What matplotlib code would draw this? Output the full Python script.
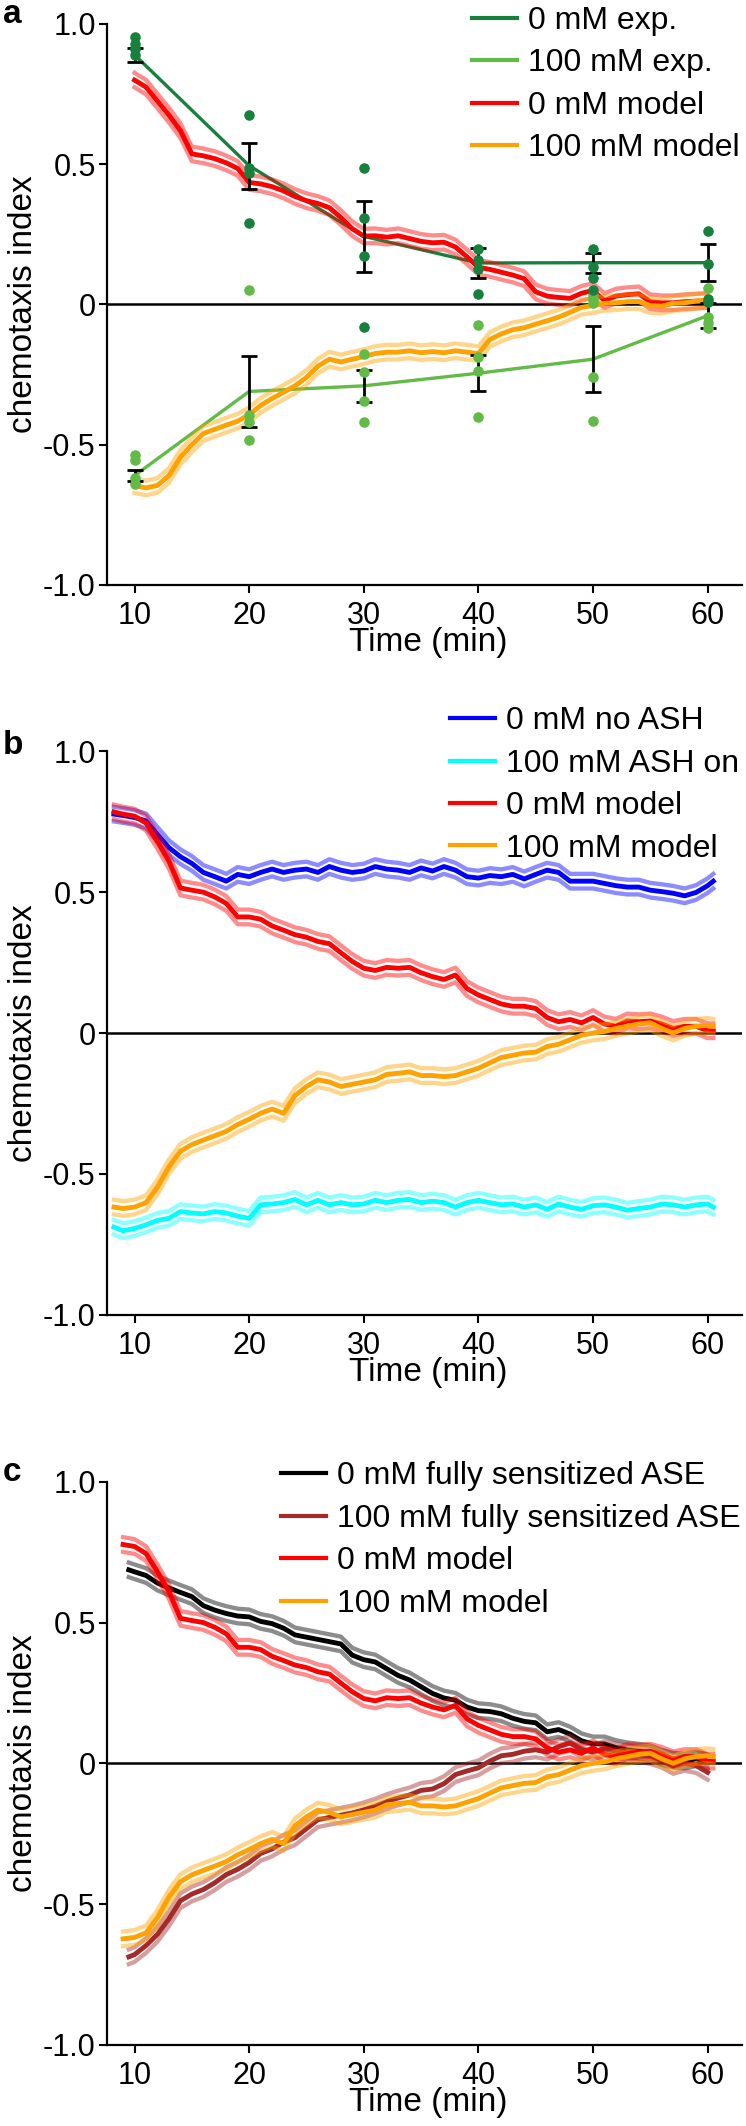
"""
Chemotaxis index over time: experiment vs model (panels a-c)
"""
import numpy as np
import matplotlib
matplotlib.use("Agg")
import matplotlib.pyplot as plt
from matplotlib.lines import Line2D

plt.rcParams['font.family'] = ['Liberation Sans', 'DejaVu Sans']

# DATA

# panel a: experiment (means, errors and single plates)
exp_t = [10, 20, 30, 40, 50, 60]
exp0_mean = [0.89, 0.495, 0.243, 0.148, 0.149, 0.149]
exp0_err = [0.025, 0.082, 0.127, 0.052, 0.035, 0.065]
exp100_mean = [-0.61, -0.31, -0.29, -0.245, -0.195, -0.04]
exp100_err = [0.02, 0.126, 0.057, 0.065, 0.118, 0.045]

exp0_dots = [
    [0.955, 0.93, 0.91, 0.89],
    [0.675, 0.485, 0.47, 0.29],
    [0.485, 0.31, 0.173, -0.08],
    [0.197, 0.157, 0.125, 0.037],
    [0.197, 0.134, 0.093, 0.05],
    [0.262, 0.146, 0.018, 0.01],
]
exp100_dots = [
    [-0.535, -0.554, -0.62, -0.641],
    [0.052, -0.395, -0.42, -0.482],
    [-0.177, -0.24, -0.344, -0.418],
    [-0.072, -0.187, -0.238, -0.40],
    [0.033, 0.02, 0.007, -0.26, -0.415],
    [0.057, -0.043, -0.067, -0.085],
]

# panel a: model
t_a = list(range(10, 61))
red_a = [0.80, 0.775, 0.725, 0.675, 0.62, 0.537, 0.53, 0.52, 0.505, 0.485,
         0.435, 0.43, 0.42, 0.405, 0.385, 0.37, 0.36, 0.345, 0.31, 0.27,
         0.244, 0.245, 0.24, 0.245, 0.235, 0.225, 0.22, 0.222, 0.205, 0.17,
         0.133, 0.125, 0.115, 0.105, 0.092, 0.045, 0.03, 0.025, 0.022, 0.04,
         0.05, 0.014, 0.03, 0.035, 0.038, 0.01, 0.006, 0.006, 0.01, 0.012,
         0.014]
orange_a = [-0.646, -0.654, -0.645, -0.61, -0.545, -0.50, -0.46, -0.445, -0.43, -0.416,
            -0.393, -0.36, -0.335, -0.313, -0.29, -0.26, -0.22, -0.195, -0.205, -0.195,
            -0.186, -0.175, -0.17, -0.17, -0.165, -0.172, -0.168, -0.172, -0.165, -0.17,
            -0.175, -0.125, -0.105, -0.09, -0.083, -0.07, -0.058, -0.045, -0.028, -0.01,
            -0.004, 0.004, 0.006, 0.01, 0.01, -0.004, -0.006, 0.004, 0.006, 0.012,
            0.016]

# panels b and c: model, and panel b controls
t_b = [8.2, 9] + list(range(10, 61)) + [60.5]
red_bc = [0.785, 0.777,
          0.77, 0.745, 0.68, 0.61, 0.515, 0.507, 0.50, 0.483, 0.46, 0.412,
          0.412, 0.404, 0.38, 0.365, 0.349, 0.34, 0.325, 0.317, 0.285, 0.254,
          0.23, 0.222, 0.233, 0.23, 0.233, 0.214, 0.20, 0.19, 0.206, 0.158,
          0.135, 0.119, 0.103, 0.095, 0.095, 0.087, 0.055, 0.04, 0.048, 0.036,
          0.055, 0.032, 0.024, 0.043, 0.04, 0.043, 0.032, 0.016, 0.024, 0.024,
          0.008,
          0.008]
orange_bc = [-0.618, -0.623,
             -0.618, -0.602, -0.547, -0.475, -0.42, -0.396, -0.38, -0.365, -0.349, -0.325,
             -0.306, -0.285, -0.27, -0.285, -0.222, -0.19, -0.166, -0.174, -0.19, -0.182,
             -0.174, -0.166, -0.147, -0.143, -0.138, -0.151, -0.151, -0.155, -0.151, -0.138,
             -0.125, -0.106, -0.087, -0.079, -0.071, -0.068, -0.048, -0.04, -0.024, -0.008,
             0.0, 0.005, 0.016, 0.024, 0.032, 0.036, 0.016, 0.0, 0.016, 0.024,
             0.027,
             0.024]
blue_b = [0.777, 0.772,
          0.765, 0.753, 0.705, 0.658, 0.626, 0.602, 0.57, 0.555, 0.539, 0.563,
          0.555, 0.57, 0.582, 0.57, 0.578, 0.582, 0.57, 0.591, 0.578, 0.57,
          0.575, 0.591, 0.582, 0.578, 0.57, 0.586, 0.575, 0.591, 0.578, 0.555,
          0.55, 0.559, 0.555, 0.563, 0.547, 0.563, 0.578, 0.57, 0.539, 0.539,
          0.539, 0.531, 0.523, 0.518, 0.518, 0.507, 0.502, 0.496, 0.487, 0.499,
          0.523,
          0.539]
cyan_b = [-0.689, -0.702,
          -0.694, -0.681, -0.665, -0.658, -0.634, -0.639, -0.642, -0.634, -0.639, -0.65,
          -0.658, -0.61, -0.607, -0.602, -0.591, -0.61, -0.594, -0.61, -0.602, -0.61,
          -0.607, -0.594, -0.602, -0.594, -0.591, -0.602, -0.597, -0.602, -0.618, -0.602,
          -0.594, -0.602, -0.61, -0.607, -0.618, -0.61, -0.626, -0.607, -0.618, -0.626,
          -0.613, -0.61, -0.618, -0.629, -0.623, -0.618, -0.607, -0.61, -0.618, -0.61,
          -0.607,
          -0.618]

# panel c: fully sensitized ASE
t_c = [9.5] + list(range(10, 61))
sens0_c = [0.687,
           0.68, 0.667, 0.64, 0.623, 0.607, 0.592, 0.56, 0.544, 0.532, 0.523,
           0.52, 0.504, 0.496, 0.48, 0.456, 0.448, 0.44, 0.432, 0.424, 0.384,
           0.368, 0.36, 0.336, 0.312, 0.296, 0.272, 0.248, 0.232, 0.224, 0.2,
           0.187, 0.184, 0.176, 0.16, 0.149, 0.144, 0.112, 0.12, 0.104, 0.08,
           0.069, 0.069, 0.056, 0.048, 0.043, 0.037, 0.021, 0.011, 0.008, 0.016,
           0.005]
sens100_c = [-0.687,
             -0.679, -0.647, -0.607, -0.552, -0.488, -0.464, -0.448, -0.424, -0.395, -0.376,
             -0.352, -0.32, -0.304, -0.28, -0.264, -0.232, -0.2, -0.192, -0.184, -0.176,
             -0.165, -0.152, -0.136, -0.123, -0.112, -0.096, -0.091, -0.072, -0.04, -0.027,
             -0.016, 0.008, 0.027, 0.032, 0.043, 0.048, 0.04, 0.059, 0.072, 0.048,
             0.04, 0.053, 0.043, 0.037, 0.032, 0.024, 0.011, -0.011, 0.0, -0.008,
             -0.032]

SEM = 0.026
DARK_GREEN = '#16803c'
LIGHT_GREEN = '#62bb46'
RED = '#ff0000'
ORANGE = '#ffa200'
BLUE = '#0000ff'
CYAN = '#00ffff'
BLACK = '#000000'
BROWN = '#a52a2a'


def model_line(ax, t, y, color):
    t = np.asarray(t)
    y = np.asarray(y)
    ax.plot(t, y + SEM, color=color, alpha=0.45, lw=3.1, zorder=3)
    ax.plot(t, y - SEM, color=color, alpha=0.45, lw=3.1, zorder=3)
    ax.plot(t, y, color=color, lw=3.5, zorder=3)


def style_axes(ax):
    ax.set_xlim(7.64, 63.0)
    ax.set_ylim(-1.0, 1.0)
    ax.set_xticks([10, 20, 30, 40, 50, 60])
    ax.set_yticks([-1.0, -0.5, 0, 0.5, 1.0])
    ax.set_yticklabels(['-1.0', '-0.5', '0', '0.5', '1.0'])
    for s in ['top', 'right']:
        ax.spines[s].set_visible(False)
    for s in ['left', 'bottom']:
        ax.spines[s].set_linewidth(1.6)
    ax.tick_params(direction='out', length=5.5, width=1.5, labelsize=22)
    ax.tick_params(axis='x', pad=6)
    ax.tick_params(axis='y', pad=3)
    ax.axhline(0, color='k', lw=1.8, zorder=2)
    ax.set_xlabel('Time (min)', fontsize=24)
    ax.set_ylabel('chemotaxis index', fontsize=24)
    ax.xaxis.set_label_coords(0.505, -0.075)
    ax.yaxis.set_label_coords(-0.108, 0.5)


def add_legend(ax, labels, colors, anchor):
    handles = [Line2D([0], [0], color=c, lw=3) for c in colors]
    ax.legend(handles, labels, loc='upper left', bbox_to_anchor=anchor,
              frameon=False, fontsize=23, handlelength=1.41,
              handletextpad=0.35, labelspacing=0.39, borderpad=0,
              borderaxespad=0)


fig = plt.figure(figsize=(7.46, 21.26), dpi=100)
ax_a = fig.add_axes([0.1441, 0.72484, 0.8505, 0.26388])
ax_b = fig.add_axes([0.1441, 0.38161, 0.8505, 0.26500])
ax_c = fig.add_axes([0.1441, 0.03810, 0.8505, 0.26496])

# PANEL A
ax = ax_a
style_axes(ax)
ax.plot(exp_t, exp0_mean, color=DARK_GREEN, lw=2.4, zorder=2.5)
ax.plot(exp_t, exp100_mean, color=LIGHT_GREEN, lw=2.4, zorder=2.5)
model_line(ax, t_a, red_a, RED)
model_line(ax, t_a, orange_a, ORANGE)
ax.errorbar(exp_t, exp0_mean, yerr=exp0_err, fmt='none', ecolor='k',
            elinewidth=2, capsize=5.8, capthick=2, zorder=4)
ax.errorbar(exp_t, exp100_mean, yerr=exp100_err, fmt='none', ecolor='k',
            elinewidth=2, capsize=5.8, capthick=2, zorder=4)
for t, vals in zip(exp_t, exp100_dots):
    ax.plot([t] * len(vals), vals, 'o', color=LIGHT_GREEN, ms=7.6, mec='none', zorder=5)
for t, vals in zip(exp_t, exp0_dots):
    ax.plot([t] * len(vals), vals, 'o', color=DARK_GREEN, ms=7.6, mec='none', zorder=5)
add_legend(ax, ['0 mM exp.', '100 mM exp.', '0 mM model', '100 mM model'],
           [DARK_GREEN, LIGHT_GREEN, RED, ORANGE], (0.5745, 1.032))

# PANEL B
ax = ax_b
style_axes(ax)
model_line(ax, t_b, blue_b, BLUE)
model_line(ax, t_b, cyan_b, CYAN)
model_line(ax, t_b, red_bc, RED)
model_line(ax, t_b, orange_bc, ORANGE)
add_legend(ax, ['0 mM no ASH', '100 mM ASH on', '0 mM model', '100 mM model'],
           [BLUE, CYAN, RED, ORANGE], (0.54, 1.080))

# PANEL C
ax = ax_c
style_axes(ax)
model_line(ax, t_c, sens0_c, BLACK)
model_line(ax, t_c, sens100_c, BROWN)
model_line(ax, t_b[1:], red_bc[1:], RED)
model_line(ax, t_b[1:], orange_bc[1:], ORANGE)
add_legend(ax, ['0 mM fully sensitized ASE', '100 mM fully sensitized ASE',
                '0 mM model', '100 mM model'],
           [BLACK, BROWN, RED, ORANGE], (0.273, 1.036))

# panel letters
fig.text(0.004, 0.98918, 'a', fontsize=24, fontweight='bold', va='baseline')
fig.text(0.004, 0.64534, 'b', fontsize=24, fontweight='bold', va='baseline')
fig.text(0.004, 0.30339, 'c', fontsize=24, fontweight='bold', va='baseline')

fig.savefig('out.png', dpi=100)
